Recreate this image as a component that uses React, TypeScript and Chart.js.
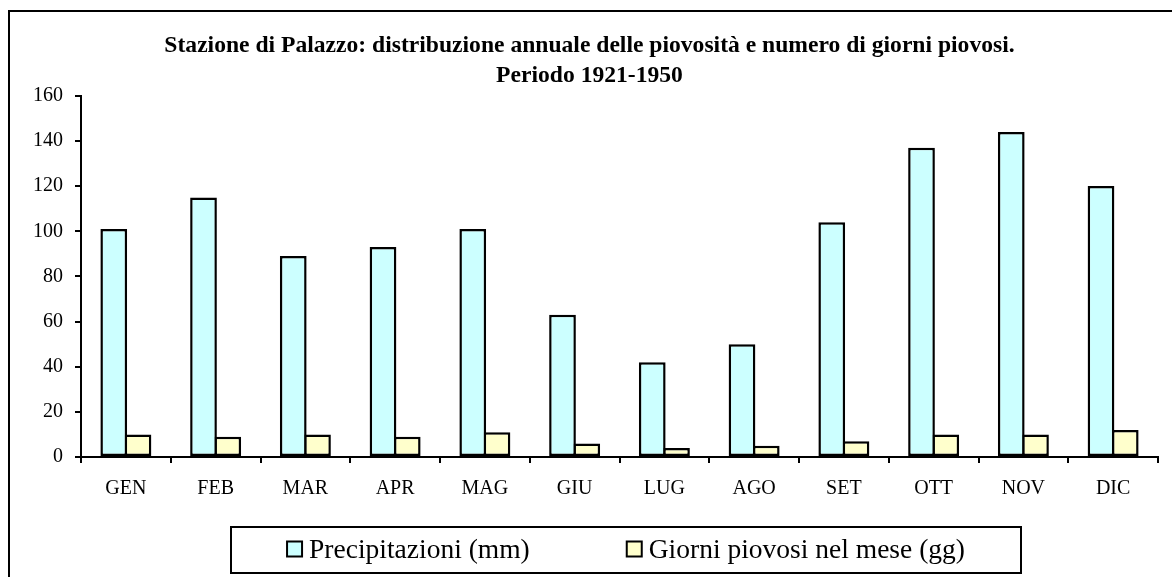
import React, { useEffect, useRef } from "react";
import { Chart, registerables } from "chart.js";

Chart.register(...registerables);

const months = ["GEN", "FEB", "MAR", "APR", "MAG", "GIU", "LUG", "AGO", "SET", "OTT", "NOV", "DIC"];
const precipitazioni = [101, 115, 89, 93, 101, 63, 42, 50, 104, 137, 144, 120];
const giorniPiovosi = [10, 9, 10, 9, 11, 6, 4, 5, 7, 10, 10, 12];
const seriesNames = ["Precipitazioni (mm)", "Giorni piovosi nel mese (gg)"];
const titleLines = [
  "Stazione di Palazzo: distribuzione annuale delle piovosità e numero di giorni piovosi.",
  "Periodo 1921-1950",
];
const yMin = 0;
const yMax = 160;
const yStep = 20;

const SERIF = '"Liberation Serif", "Times New Roman", Times, serif';

const framePlugin = {
  id: "frame",
  beforeDraw(chart: any) {
    const ctx = chart.ctx;
    ctx.save();
    ctx.fillStyle = "#ffffff";
    ctx.fillRect(0, 0, chart.width, chart.height);
    ctx.strokeStyle = "#000";
    ctx.lineWidth = 2;
    ctx.strokeRect(9, 11, chart.width + 20, chart.height + 20);
    ctx.restore();
  },
};

const boxedLegendPlugin = {
  id: "boxedLegend",
  afterDraw(chart: any, _args: any, opts: any) {
    const ctx = chart.ctx;
    const { left, top, width, height, font, boxSize, textGap, itemGap } = opts;
    ctx.save();
    ctx.lineWidth = 2;
    ctx.strokeStyle = "#000";
    ctx.strokeRect(left, top, width, height);
    ctx.font = font;
    const items = chart.data.datasets.map((ds: any) => ({ text: ds.label, color: ds.backgroundColor }));
    const widths = items.map((it: any) => boxSize + textGap + ctx.measureText(it.text).width);
    const total = widths.reduce((a: number, b: number) => a + b, 0) + itemGap * (items.length - 1);
    let x = left + (width - total) / 2;
    const cy = top + height / 2;
    ctx.textBaseline = "middle";
    ctx.textAlign = "left";
    items.forEach((it: any, i: number) => {
      ctx.fillStyle = it.color;
      ctx.fillRect(x, cy - 1 - boxSize / 2, boxSize, boxSize);
      ctx.strokeRect(x, cy - 1 - boxSize / 2, boxSize, boxSize);
      ctx.fillStyle = "#000";
      ctx.fillText(it.text, x + boxSize + textGap, cy + 1);
      x += widths[i] + itemGap;
    });
    ctx.restore();
  },
};

export default function App() {
  const canvasRef = useRef<HTMLCanvasElement | null>(null);

  useEffect(() => {
    if (!canvasRef.current) return;
    const barStyle = {
      borderColor: "#000",
      borderWidth: 2.5,
      borderSkipped: false,
      categoryPercentage: 0.54,
      barPercentage: 1.103,
    };
    const chart = new Chart(canvasRef.current, {
      type: "bar",
      data: {
        labels: months,
        datasets: [
          { label: seriesNames[0], data: precipitazioni, backgroundColor: "#CCFFFF", ...barStyle },
          { label: seriesNames[1], data: giorniPiovosi, backgroundColor: "#FFFFCC", ...barStyle },
        ],
      } as any,
      options: {
        responsive: false,
        animation: false,
        layout: { padding: { left: 21, right: 14, top: 20, bottom: 62 } },
        plugins: {
          legend: { display: false },
          tooltip: { enabled: false },
          title: {
            display: true,
            text: titleLines,
            color: "#000",
            font: { family: SERIF, size: 23.6, weight: "bold", lineHeight: 1.31 },
            padding: { top: 10, bottom: 4 },
          },
          boxedLegend: {
            left: 231,
            top: 527,
            width: 790,
            height: 46,
            font: `27.5px ${SERIF}`,
            boxSize: 15,
            textGap: 7,
            itemGap: 97,
          },
        } as any,
        scales: {
          x: {
            grid: {
              display: true,
              drawOnChartArea: false,
              drawTicks: true,
              tickLength: 6,
              color: "#000",
              lineWidth: 2,
              offset: true,
            },
            border: { display: true, color: "#000", width: 2 },
            ticks: { color: "#000", font: { family: SERIF, size: 20 }, padding: 14 },
          },
          y: {
            min: yMin,
            max: yMax,
            ticks: { stepSize: yStep, color: "#000", font: { family: SERIF, size: 20 }, padding: 12 },
            grid: { drawOnChartArea: false, tickLength: 6, color: "#000", lineWidth: 2 },
            border: { display: true, color: "#000", width: 2 },
          },
        },
      },
      plugins: [framePlugin, boxedLegendPlugin],
    });
    return () => chart.destroy();
  }, []);

  return (
    <div style={{ position: "fixed", left: 0, top: 0, width: 1172, height: 577 }}>
      <canvas ref={canvasRef} width={1172} height={577} style={{ display: "block" }} />
    </div>
  );
}
